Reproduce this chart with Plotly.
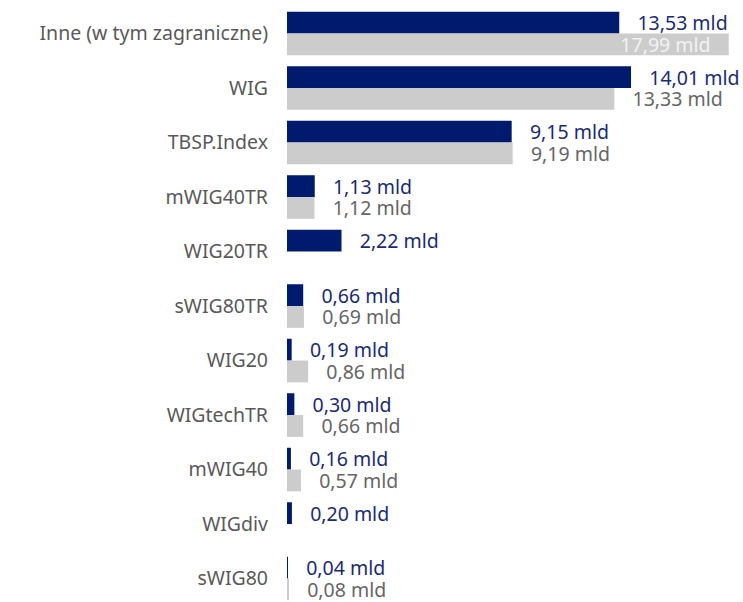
import plotly.graph_objects as go

categories = ["Inne (w tym zagraniczne)", "WIG", "TBSP.Index", "mWIG40TR", "WIG20TR",
              "sWIG80TR", "WIG20", "WIGtechTR", "mWIG40", "WIGdiv", "sWIG80"]
current = [13.53, 14.01, 9.15, 1.13, 2.22, 0.66, 0.19, 0.30, 0.16, 0.20, 0.04]
previous = [17.99, 13.33, 9.19, 1.12, None, 0.69, 0.86, 0.66, 0.57, None, 0.08]

NAVY = "#001a6e"
GREY = "#cccccc"
FONT = "Noto Sans"
SIZE = 19.5
PAD = "\u00a0" * 3


def fmt(v):
    if v is None:
        return ""
    return f"{v:.2f}".replace(".", ",") + " mld"


# the longest grey bar has its label inside, the rest sit outside
prev_pos = ["inside" if v is not None and v > 17 else "outside" for v in previous]
prev_text = [fmt(v) + PAD if p == "inside" else PAD + fmt(v)
             for v, p in zip(previous, prev_pos)]
prev_color = ["#f2f2f2" if p == "inside" else "#666666" for p in prev_pos]

fig = go.Figure()
fig.add_trace(go.Bar(
    y=categories, x=current, orientation="h", name="current",
    marker=dict(color=NAVY, line=dict(width=0)),
    text=[PAD + fmt(v) for v in current], textposition="outside",
    textfont=dict(family=FONT, size=SIZE, color="#1a2a78"),
    constraintext="none", cliponaxis=False,
))
fig.add_trace(go.Bar(
    y=categories, x=previous, orientation="h", name="previous",
    marker=dict(color=GREY, line=dict(width=0)),
    text=prev_text, textposition=prev_pos, insidetextanchor="end",
    textfont=dict(family=FONT, size=SIZE, color=prev_color),
    constraintext="none", cliponaxis=False,
))

fig.update_layout(
    width=743, height=602,
    barmode="group", bargap=0.2, bargroupgap=0,
    showlegend=False,
    plot_bgcolor="white", paper_bgcolor="white",
    margin=dict(l=287, r=14, t=0, b=0),
    font=dict(family=FONT, size=SIZE, color="#595959"),
    xaxis=dict(range=[0, 18], visible=False, showgrid=False, zeroline=False),
    yaxis=dict(range=[10.43, -0.615], showgrid=False, zeroline=False, showline=False,
               ticks="", ticklabelstandoff=18,
               tickfont=dict(family=FONT, size=SIZE, color="#595959")),
)

# drop the default body margin so the figure sits flush in the window
fig.write_html("out.html", config={"displayModeBar": False},
               post_script="document.body.style.margin='0';"
               "document.body.style.overflow='hidden';")
